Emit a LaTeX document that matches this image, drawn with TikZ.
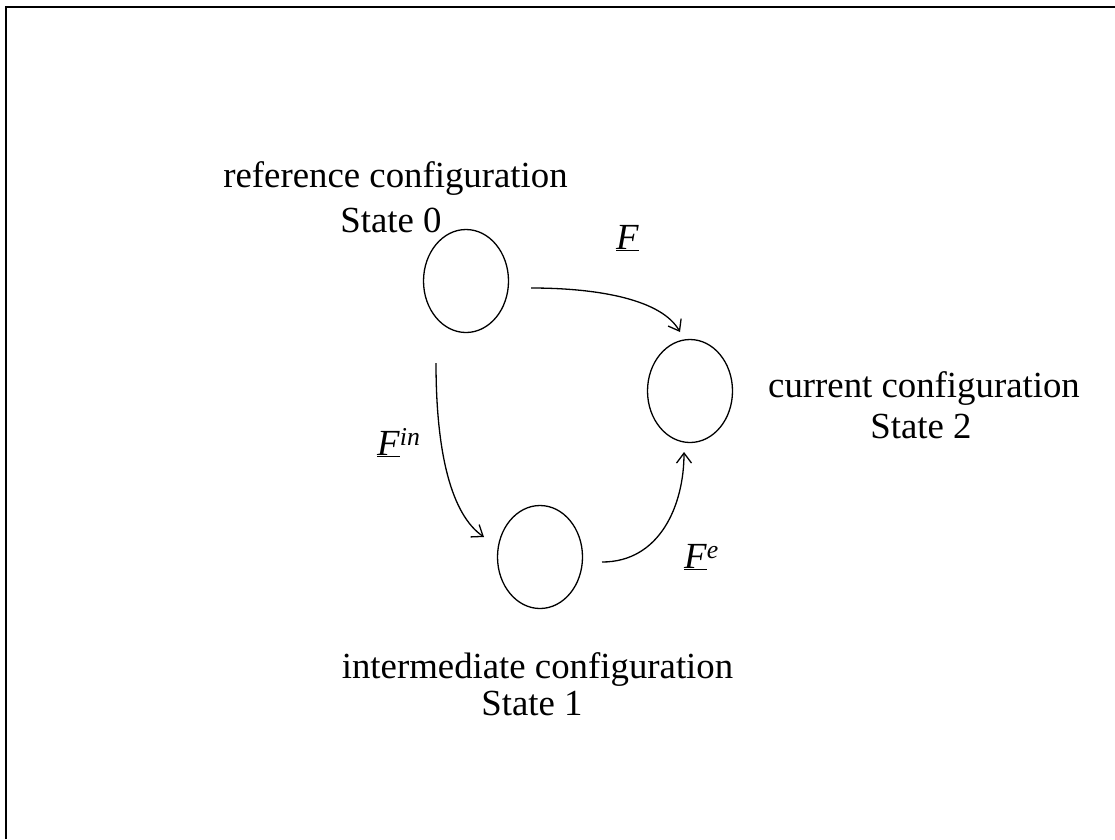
\documentclass[tikz,border=0pt]{standalone}
\usepackage{fontspec}
\setmainfont{Liberation Serif}
\usetikzlibrary{arrows.meta,shapes.geometric}
\begin{document}
\begin{tikzpicture}[x=1pt,y=-1pt,
  state/.style={draw,ellipse,line width=1.3pt,minimum width=85pt,minimum height=103pt,inner sep=0pt},
  lbl/.style={font=\fontsize{36.8}{44}\selectfont,inner sep=0pt,anchor=base},
  conn/.style={line width=1.3pt,-{Straight Barb[length=10pt,width=15pt,line width=1.3pt]}}]
\useasboundingbox (0,0) rectangle (1115,839);
\coordinate (fa) at (6,839);
\coordinate (fb) at (6,7);
\coordinate (fc) at (1115,7);
\draw[line width=2pt] (fa) -- (fb) -- (fc);
\node[state] (s0) at (466,281) {};
\node[state] (s2) at (690,391) {};
\node[state] (s1) at (540,557) {};
\node[lbl] (t0a) at (395.5,187) {reference configuration};
\node[lbl] (t0b) at (391,232) {State 0};
\node[lbl] (t2a) at (924,397) {current configuration};
\node[lbl] (t2b) at (921,438) {State 2};
\node[lbl] (t1a) at (537.5,678) {intermediate configuration};
\node[lbl] (t1b) at (532,715) {State 1};
\node[lbl,anchor=base west] (lF) at (616,249) {\underline{\textit{F}}};
\node[lbl,anchor=base west] (lFin) at (377,455) {\underline{\textit{F}}\textsuperscript{\textit{in}}};
\node[lbl,anchor=base west] (lFe) at (684,568) {\underline{\textit{F}}\textsuperscript{\textit{e}}};
\coordinate (a0) at (531,288);
\coordinate (a2) at (680,332);
\draw[conn] (a0) .. controls (600,288) and (662,300) .. (a2);
\coordinate (b0) at (436,363);
\coordinate (b1) at (484,537);
\draw[conn] (b0) .. controls (436,455) and (452,515) .. (b1);
\coordinate (c1) at (602,562);
\coordinate (c2) at (684,452);
\draw[conn] (c1) .. controls (660,562) and (684,505) .. (c2);
\end{tikzpicture}
\end{document}
